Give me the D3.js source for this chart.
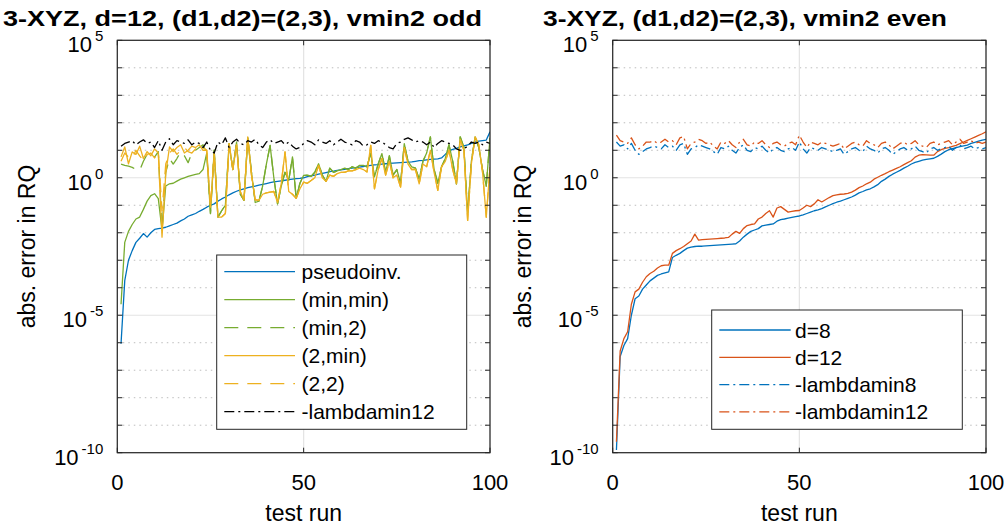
<!DOCTYPE html>
<html><head><meta charset="utf-8">
<script src="https://cdn.jsdelivr.net/npm/d3@7/dist/d3.min.js"></script>
<style>
body{margin:0;background:#fff}
svg{display:block}
text{font-family:"Liberation Sans",Arial,Helvetica,sans-serif;fill:#000}
</style>
</head><body>
<svg id="chart" width="1004" height="532"></svg>
<script>
// ---------------- DATA (log10 of abs. error in RQ, test runs 1..100) ----------------
const testRuns = d3.range(1, 101);
const xTicks = [0, 50, 100];
const yMajorExps = [5, 0, -5, -10];
const yMinorExps = [4, 3, 2, 1, -1, -2, -3, -4, -6, -7, -8, -9];

// left panel: d=12, vmin2 odd
const pseudoinvLog = [-6.04,-3.74,-3.0,-2.65,-2.35,-2.2,-2.03,-2.16,-2.0,-1.88,-1.85,-1.83,-1.8,-1.75,-1.7,-1.65,-1.57,-1.5,-1.4,-1.35,
 -1.3,-1.22,-1.15,-1.07,-1.0,-0.95,-0.85,-0.77,-0.7,-0.62,-0.55,-0.49,-0.44,-0.4,-0.36,-0.33,-0.3,-0.27,-0.24,-0.21,
 -0.18,-0.15,-0.13,-0.11,-0.09,-0.07,-0.05,-0.03,-0.02,0.0,0.04,0.07,0.1,0.13,0.16,0.19,0.22,0.24,0.27,0.29,
 0.31,0.33,0.35,0.37,0.39,0.41,0.43,0.45,0.47,0.48,0.5,0.51,0.52,0.53,0.54,0.55,0.56,0.57,0.58,0.6,
 0.62,0.63,0.65,0.67,0.68,0.69,0.72,0.85,0.98,1.03,1.07,1.12,1.16,1.2,1.25,1.3,1.33,1.35,1.37,1.67];
const minMinLog = [-4.6,-2.35,-1.95,-1.7,-1.5,-1.43,-1.15,-0.85,-0.65,-0.58,-0.76,-1.9,-0.3,-0.22,-0.2,-0.12,-0.05,0.0,0.05,0.09,
 0.12,0.15,0.3,0.9,-1.3,1.0,-1.43,-1.2,-1.0,1.24,0.3,1.3,-0.6,-0.82,1.45,0.2,-0.9,-0.85,-0.3,0.5,
 1.18,0.0,-0.95,-0.3,0.2,-0.1,0.76,-0.75,-0.2,0.09,0.1,0.05,0.2,0.51,0.1,-0.13,0.35,0.2,0.25,0.3,
 0.35,0.3,0.4,0.35,0.45,0.45,0.4,0.9,0.03,0.5,0.88,0.2,0.8,0.1,0.3,-0.2,1.24,0.6,0.4,0.35,
 -0.05,0.6,0.9,1.49,0.3,-0.2,0.4,0.7,1.2,0.6,-0.22,1.49,1.1,-1.3,0.6,1.49,1.1,0.3,-0.3,1.45];
const minTwoLog = [0.5,0.45,0.42,0.38,0.3,0.27,0.6,0.85,0.9,0.75,0.95,-1.9,0.2,0.7,0.5,0.7,0.94,0.8,0.55,0.9,
 1.0,1.1,1.2,0.9,-1.3,1.0,-1.43,-1.2,-1.0,1.24,0.3,1.3,-0.6,-0.82,1.45,0.2,-0.9,-0.85,-0.3,0.5,
 1.18,0.0,-0.95,-0.3,0.2,-0.1,0.76,-0.75,-0.2,0.09,0.1,0.05,0.2,0.51,0.1,-0.13,0.35,0.2,0.25,0.3,
 0.35,0.3,0.4,0.35,0.45,0.45,0.4,0.9,0.03,0.5,0.88,0.2,0.8,0.1,0.3,-0.2,1.24,0.6,0.4,0.35,
 -0.05,0.6,0.9,1.49,0.3,-0.2,0.4,0.7,1.2,0.6,-0.22,1.49,1.1,-1.3,0.6,1.49,1.1,0.3,-0.3,1.45];
const twoMinLog = [0.76,1.12,0.51,0.94,0.85,1.15,0.7,0.95,0.8,1.05,0.9,-2.16,0.15,1.12,0.95,1.1,1.2,0.9,1.0,1.15,
 1.1,1.2,1.0,1.0,-1.07,0.88,-1.43,-1.43,-1.3,1.24,0.3,1.2,-0.5,-0.82,1.49,0.1,-0.8,-0.82,-0.6,-0.55,
 -0.52,-0.5,-0.9,-0.2,0.94,-0.5,-0.6,-0.75,-0.4,-0.16,-0.2,-0.1,0.0,0.45,0.0,-0.13,0.1,0.05,0.15,0.2,
 0.2,0.25,0.25,0.3,0.35,0.3,0.21,1.18,-0.4,0.3,0.7,0.1,0.6,0.0,0.1,-0.34,1.1,0.5,0.3,0.3,
 -0.22,0.5,0.4,1.0,0.2,-0.46,0.4,0.6,1.0,0.3,-0.22,1.4,1.0,-1.55,0.5,1.49,1.2,0.2,-1.43,0.39];
const twoTwoLog = [0.6,0.9,0.75,0.7,1.0,0.8,0.62,0.85,0.9,0.72,0.95,-1.2,0.5,0.9,1.05,0.85,1.0,1.1,0.95,0.9,
 1.05,0.95,1.1,1.0,-1.07,0.88,-1.43,-1.43,-1.3,1.24,0.3,1.2,-0.5,-0.82,1.49,0.1,-0.8,-0.82,-0.6,-0.55,
 -0.52,-0.5,-0.9,-0.2,0.94,-0.5,-0.6,-0.75,-0.4,-0.16,-0.2,-0.1,0.0,0.45,0.0,-0.13,0.1,0.05,0.15,0.2,
 0.2,0.25,0.25,0.3,0.35,0.3,0.21,1.18,-0.4,0.3,0.7,0.1,0.6,0.0,0.1,-0.34,1.1,0.5,0.3,0.3,
 -0.22,0.5,0.4,1.0,0.2,-0.46,0.4,0.6,1.0,0.3,-0.22,1.4,1.0,-1.55,0.5,1.49,1.2,0.2,-1.43,0.39];
const lambdamin12OddLog = [1.15,1.25,1.3,1.35,1.2,1.3,1.38,1.25,1.3,1.1,1.35,1.0,1.3,1.42,1.2,1.35,1.3,1.25,1.38,1.2,
 1.3,1.25,1.1,1.3,1.0,0.9,1.3,1.2,1.45,1.1,1.3,1.4,1.25,1.2,1.35,1.3,1.4,1.2,1.1,1.3,
 1.38,1.25,1.3,1.35,1.2,1.3,1.15,1.05,1.1,1.25,1.35,1.3,1.2,1.38,1.3,1.25,1.35,1.2,1.3,1.4,
 1.3,1.25,1.2,1.35,1.3,1.15,1.2,1.3,1.25,1.35,1.3,1.2,1.1,1.05,1.25,1.3,1.4,1.45,1.38,1.3,
 1.35,1.3,1.2,1.3,1.1,1.25,1.35,1.3,1.25,1.2,1.05,1.0,1.05,1.15,1.3,1.25,1.3,1.2,1.3,1.25];

// right panel: vmin2 even
const d8Log = [-9.9,-6.5,-6.1,-5.85,-5.0,-4.4,-4.3,-4.05,-3.9,-3.75,-3.65,-3.55,-3.5,-3.46,-3.42,-2.9,-2.82,-2.75,-2.65,-2.56,
 -2.52,-2.5,-2.49,-2.49,-2.48,-2.47,-2.46,-2.45,-2.44,-2.43,-2.42,-2.41,-2.4,-2.3,-2.16,-2.05,-1.95,-1.9,-1.85,-1.75,
 -1.72,-1.7,-1.68,-1.58,-1.52,-1.5,-1.47,-1.44,-1.41,-1.39,-1.35,-1.3,-1.25,-1.2,-1.17,-1.12,-1.06,-1.0,-0.94,-0.89,
 -0.85,-0.8,-0.75,-0.7,-0.63,-0.55,-0.5,-0.44,-0.4,-0.33,-0.25,-0.13,-0.05,0.05,0.13,0.2,0.27,0.35,0.42,0.5,
 0.56,0.6,0.64,0.67,0.69,0.71,0.78,0.86,0.95,1.02,1.06,1.1,1.13,1.16,1.19,1.25,1.29,1.33,1.37,1.4];
const d12Log = [-9.6,-6.3,-5.85,-5.6,-4.6,-4.15,-4.05,-3.8,-3.6,-3.48,-3.4,-3.28,-3.2,-3.18,-3.18,-2.75,-2.65,-2.58,-2.5,-2.4,
 -2.3,-2.05,-2.27,-2.25,-2.24,-2.23,-2.22,-2.21,-2.2,-2.19,-2.17,-2.05,-1.95,-2.02,-1.85,-1.74,-1.7,-1.68,-1.5,-1.43,
 -1.3,-1.2,-1.43,-1.1,-1.05,-1.15,-1.25,-1.22,-1.2,-1.19,-1.1,-1.0,-1.05,-0.95,-0.8,-0.88,-0.8,-0.72,-0.65,-0.62,
 -0.6,-0.59,-0.57,-0.52,-0.45,-0.36,-0.3,-0.22,-0.16,-0.05,0.02,0.09,0.15,0.22,0.28,0.34,0.4,0.48,0.55,0.62,
 0.75,0.82,0.84,0.83,0.82,0.82,0.95,1.02,1.07,1.1,1.14,1.18,1.24,1.3,1.36,1.42,1.48,1.54,1.6,1.67];
const lambdamin8Log = [1.3,1.15,1.2,1.05,1.25,1.0,0.85,0.95,1.05,1.1,1.15,1.1,1.05,1.2,1.1,1.15,1.0,1.2,1.25,0.85,
 1.05,1.1,1.2,1.15,1.1,1.05,0.95,0.85,1.1,1.05,1.15,1.0,0.9,1.1,1.2,1.0,0.95,1.1,1.05,1.15,
 1.0,0.9,1.05,1.1,1.0,0.95,1.05,1.1,1.0,1.3,1.05,0.9,1.1,1.05,1.0,1.1,1.05,1.0,0.95,1.0,
 1.05,0.85,0.95,1.05,1.1,1.0,0.95,1.15,1.05,1.0,0.9,1.05,1.1,1.0,0.85,0.95,1.05,1.1,1.0,1.05,
 1.15,1.0,0.95,0.9,1.05,1.1,1.0,1.05,1.1,1.15,1.0,1.1,1.2,1.05,1.1,1.15,1.05,1.1,1.05,1.1];
const lambdamin12EvenLog = [1.55,1.35,1.3,1.25,1.45,1.2,1.05,1.15,1.3,1.3,1.35,1.25,1.3,1.4,1.3,1.35,1.2,1.45,1.5,1.05,
 1.25,1.3,1.4,1.35,1.25,1.3,1.15,1.05,1.3,1.25,1.35,1.2,1.1,1.3,1.4,1.2,1.15,1.3,1.25,1.35,
 1.2,1.1,1.25,1.3,1.2,1.15,1.25,1.3,1.2,1.55,1.3,1.1,1.3,1.25,1.2,1.3,1.25,1.2,1.15,1.2,
 1.25,1.05,1.15,1.25,1.3,1.2,1.15,1.35,1.25,1.2,1.1,1.25,1.3,1.2,1.05,1.15,1.25,1.3,1.2,1.25,
 1.35,1.2,1.15,1.1,1.25,1.3,1.2,1.25,1.3,1.35,1.2,1.3,1.4,1.25,1.3,1.35,1.25,1.3,1.25,1.3];

// ---------------- STYLES ----------------
const C_BLUE = "#0072BD", C_ORANGE = "#D95319", C_YELLOW = "#EDB120", C_GREEN = "#77AC30", C_BLACK = "#000000";
const DASH = "14,9", DASHDOT = "10,4,2,4";

const panels = [
  { title: "3-XYZ, d=12, (d1,d2)=(2,3), vmin2 odd", titleX: 3, titleW: 479,
    left: 117.3, right: 490,
    series: [
      { name: "pseudoinv.", vals: pseudoinvLog, color: C_BLUE, dash: null },
      { name: "(min,min)", vals: minMinLog, color: C_GREEN, dash: null },
      { name: "(min,2)", vals: minTwoLog, color: C_GREEN, dash: DASH },
      { name: "(2,min)", vals: twoMinLog, color: C_YELLOW, dash: null },
      { name: "(2,2)", vals: twoTwoLog, color: C_YELLOW, dash: DASH },
      { name: "-lambdamin12", vals: lambdamin12OddLog, color: C_BLACK, dash: DASHDOT }
    ],
    legend: { x: 216.7, y: 255, w: 250, h: 174.3, row0: 271.7, rowH: 28, lx0: 224.3, lx1: 295, tx: 301.5 }
  },
  { title: "3-XYZ, (d1,d2)=(2,3), vmin2 even", titleX: 543, titleW: 404,
    left: 612.7, right: 986,
    series: [
      { name: "d=8", vals: d8Log, color: C_BLUE, dash: null },
      { name: "d=12", vals: d12Log, color: C_ORANGE, dash: null },
      { name: "-lambdamin8", vals: lambdamin8Log, color: C_BLUE, dash: DASHDOT },
      { name: "-lambdamin12", vals: lambdamin12EvenLog, color: C_ORANGE, dash: DASHDOT }
    ],
    legend: { x: 711.7, y: 310, w: 250.6, h: 119.3, row0: 330, rowH: 27.3, lx0: 719.3, lx1: 790.7, tx: 795 }
  }
];

const TOP = 40.3, BOTTOM = 452.7;
const svg = d3.select("#chart");

panels.forEach(p => {
  const x = d3.scaleLinear().domain([0, 100]).range([p.left, p.right]);
  const y = d3.scaleLog().domain([1e-10, 1e5]).range([BOTTOM, TOP]);
  const g = svg.append("g");

  // minor grid (dotted)
  g.selectAll(".minor").data(yMinorExps).enter().append("line")
    .attr("x1", p.left).attr("x2", p.right)
    .attr("y1", d => y(Math.pow(10, d))).attr("y2", d => y(Math.pow(10, d)))
    .attr("stroke", "#bdbdbd").attr("stroke-width", 1).attr("stroke-dasharray", "1.5,4");
  // major grid
  g.selectAll(".major").data(yMajorExps).enter().append("line")
    .attr("x1", p.left).attr("x2", p.right)
    .attr("y1", d => y(Math.pow(10, d))).attr("y2", d => y(Math.pow(10, d)))
    .attr("stroke", "#e3e3e3").attr("stroke-width", 1.2);
  g.selectAll(".vgrid").data(xTicks).enter().append("line")
    .attr("x1", d => x(d)).attr("x2", d => x(d)).attr("y1", TOP).attr("y2", BOTTOM)
    .attr("stroke", "#e3e3e3").attr("stroke-width", 1.2);

  // clip
  const clipId = "clip" + Math.round(p.left);
  svg.append("clipPath").attr("id", clipId).append("rect")
    .attr("x", p.left).attr("y", TOP).attr("width", p.right - p.left).attr("height", BOTTOM - TOP);

  const line = d3.line().x((d, i) => x(testRuns[i])).y(d => y(Math.pow(10, d)));
  const lg = g.append("g").attr("clip-path", `url(#${clipId})`);
  p.series.forEach(s => {
    lg.append("path").attr("d", line(s.vals)).attr("fill", "none")
      .attr("stroke", s.color).attr("stroke-width", 1.3)
      .attr("stroke-linejoin", "round")
      .attr("stroke-dasharray", s.dash);
  });

  // ticks inside on all four sides
  const allExps = yMajorExps.concat(yMinorExps);
  g.selectAll(".ytl").data(allExps).enter().append("line")
    .attr("x1", p.left).attr("x2", p.left + 5)
    .attr("y1", d => y(Math.pow(10, d))).attr("y2", d => y(Math.pow(10, d)))
    .attr("stroke", "#262626").attr("stroke-width", 1);
  g.selectAll(".ytr").data(allExps).enter().append("line")
    .attr("x1", p.right).attr("x2", p.right - 5)
    .attr("y1", d => y(Math.pow(10, d))).attr("y2", d => y(Math.pow(10, d)))
    .attr("stroke", "#262626").attr("stroke-width", 1);
  g.selectAll(".xtb").data(xTicks).enter().append("line")
    .attr("x1", d => x(d)).attr("x2", d => x(d)).attr("y1", BOTTOM).attr("y2", BOTTOM - 5)
    .attr("stroke", "#262626").attr("stroke-width", 1);
  g.selectAll(".xtt").data(xTicks).enter().append("line")
    .attr("x1", d => x(d)).attr("x2", d => x(d)).attr("y1", TOP).attr("y2", TOP + 5)
    .attr("stroke", "#262626").attr("stroke-width", 1);

  // box
  g.append("rect").attr("x", p.left).attr("y", TOP)
    .attr("width", p.right - p.left).attr("height", BOTTOM - TOP)
    .attr("fill", "none").attr("stroke", "#262626").attr("stroke-width", 1.2);

  // x tick labels
  g.selectAll(".xlab").data(xTicks).enter().append("text")
    .attr("x", d => x(d)).attr("y", 490)
    .attr("text-anchor", "middle").attr("font-size", 22)
    .text(d => d);

  // y tick labels 10^e (right-aligned)
  yMajorExps.forEach(e => {
    const t = g.append("text")
      .attr("x", p.left - 14).attr("y", y(Math.pow(10, e)) + 12)
      .attr("text-anchor", "end")
      .attr("font-size", 22);
    t.append("tspan").text("10");
    t.append("tspan").attr("dx", 3).attr("dy", -11).attr("font-size", 15).text(String(e));
  });

  // axis labels
  g.append("text").attr("x", (p.left + p.right) / 2).attr("y", 521)
    .attr("text-anchor", "middle").attr("font-size", 23).text("test run");
  g.append("text")
    .attr("transform", `translate(${p.left - 82},${(TOP + BOTTOM) / 2}) rotate(-90)`)
    .attr("text-anchor", "middle").attr("font-size", 23).text("abs. error in RQ");

  // title
  g.append("text").attr("x", p.titleX).attr("y", 26)
    .attr("font-size", 22.5).attr("font-weight", "bold")
    .attr("textLength", p.titleW).attr("lengthAdjust", "spacingAndGlyphs")
    .text(p.title);

  // legend
  const L = p.legend;
  const lgd = g.append("g");
  lgd.append("rect").attr("x", L.x).attr("y", L.y).attr("width", L.w).attr("height", L.h)
    .attr("fill", "#fff").attr("stroke", "#262626").attr("stroke-width", 1);
  p.series.forEach((s, i) => {
    const ry = L.row0 + i * L.rowH;
    lgd.append("line").attr("x1", L.lx0).attr("x2", L.lx1).attr("y1", ry).attr("y2", ry)
      .attr("stroke", s.color).attr("stroke-width", 1.3).attr("stroke-dasharray", s.dash);
    lgd.append("text").attr("x", L.tx).attr("y", ry + 7.5).attr("font-size", 21).text(s.name);
  });
});
</script>
</body></html>
